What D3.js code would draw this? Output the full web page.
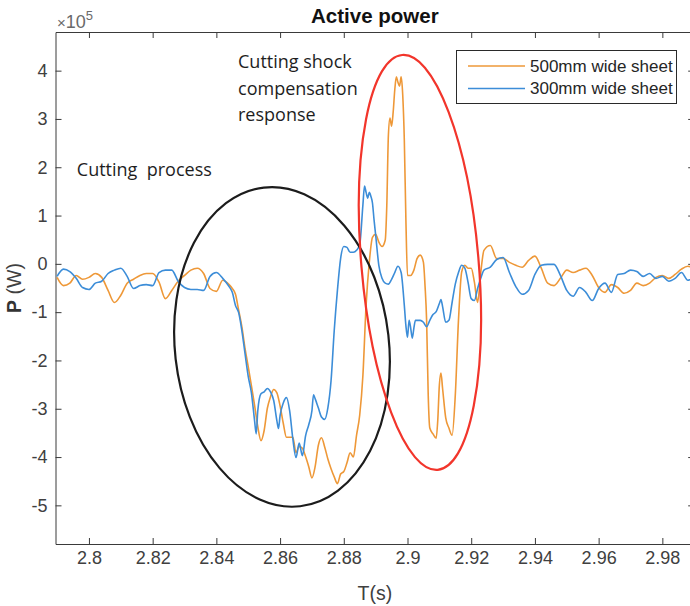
<!DOCTYPE html>
<html>
<head>
<meta charset="utf-8">
<script src="https://cdn.jsdelivr.net/npm/d3@7"></script>
<style>
  body { margin: 0; background: #fff; }
  svg { display: block; }
</style>
</head>
<body>
<svg id="chart" width="690" height="606"></svg>
<script>
// Active power during a cutting cycle, two sheet widths. Power in units of 1e5 W.
const seriesNames = ["500mm wide sheet", "300mm wide sheet"];

const t500 = [2.790,2.792,2.794,2.796,2.798,2.800,2.802,2.804,2.806,2.808,2.810,2.812,2.814,2.816,2.818,2.820,2.822,2.824,2.826,2.828,
  2.830,2.832,2.834,2.836,2.838,2.840,2.842,2.844,2.845,2.846,2.847,2.848,2.849,2.850,2.851,2.852,2.853,2.854,2.855,2.856,
  2.857,2.858,2.859,2.860,2.861,2.862,2.863,2.864,2.865,2.866,2.867,2.868,2.869,2.870,2.871,2.872,2.873,2.874,2.875,2.876,
  2.877,2.878,2.879,2.880,2.881,2.882,2.883,2.884,2.885,2.886,2.887,2.888,2.889,2.890,2.891,2.892,2.893,2.8935,2.894,2.8945,
  2.895,2.8955,2.896,2.8965,2.897,2.8975,2.898,2.8985,2.899,2.8995,2.900,2.901,2.902,2.903,2.904,2.905,2.9055,2.906,2.9065,2.907,
  2.908,2.909,2.9095,2.910,2.9105,2.911,2.912,2.913,2.914,2.915,2.916,2.917,2.918,2.919,2.920,2.921,2.922,2.923,2.924,2.926,
  2.928,2.930,2.932,2.934,2.936,2.938,2.940,2.942,2.944,2.946,2.948,2.950,2.952,2.954,2.956,2.958,2.960,2.962,2.964,2.966,
  2.968,2.970,2.972,2.974,2.976,2.978,2.980,2.982,2.984,2.986,2.988,2.990];
const p500 = [-0.28,-0.45,-0.40,-0.24,-0.32,-0.28,-0.20,-0.28,-0.55,-0.80,-0.65,-0.40,-0.32,-0.24,-0.20,-0.20,-0.38,-0.72,-0.55,-0.36,
  -0.24,-0.13,-0.09,-0.20,-0.51,-0.57,-0.34,-0.43,-0.51,-0.63,-0.96,-1.30,-1.75,-2.13,-2.52,-2.93,-3.37,-3.66,-3.45,-2.99,
  -2.75,-2.60,-2.67,-2.94,-3.30,-3.59,-3.59,-3.59,-3.91,-3.78,-3.82,-3.99,-4.20,-4.43,-4.20,-3.76,-3.60,-3.79,-4.04,-4.24,
  -4.41,-4.55,-4.35,-4.30,-4.12,-3.91,-4.00,-3.55,-3.13,-2.31,-0.86,0.03,0.55,0.61,0.45,0.36,0.49,1.21,2.66,3.02,
  2.85,3.14,3.60,3.87,3.76,3.68,3.87,3.50,2.56,0.90,-0.24,-0.24,-0.13,0.11,0.18,0.03,-0.45,-1.17,-2.71,-3.40,
  -3.52,-3.61,-3.24,-2.51,-2.26,-2.57,-3.19,-3.40,-3.55,-2.72,-1.17,-0.17,-0.03,-0.09,-0.09,-0.38,-0.80,-0.18,0.28,0.38,
  0.11,0.11,0.03,-0.03,-0.07,0.07,0.16,-0.09,-0.40,-0.45,-0.30,-0.13,-0.18,-0.13,-0.09,-0.24,-0.49,-0.59,-0.43,-0.49,
  -0.61,-0.55,-0.40,-0.45,-0.40,-0.28,-0.24,-0.30,-0.22,-0.11,-0.05,-0.09];

const t300 = [2.790,2.792,2.794,2.796,2.798,2.800,2.802,2.804,2.806,2.808,2.810,2.812,2.814,2.816,2.818,2.820,2.822,2.824,2.826,2.828,
  2.830,2.832,2.834,2.836,2.838,2.840,2.842,2.844,2.845,2.846,2.847,2.848,2.849,2.850,2.851,2.852,2.8525,2.853,2.854,2.855,
  2.856,2.857,2.858,2.859,2.8595,2.860,2.861,2.862,2.863,2.864,2.865,2.866,2.867,2.868,2.869,2.870,2.8705,2.871,2.872,2.873,
  2.874,2.875,2.876,2.877,2.878,2.879,2.880,2.881,2.882,2.883,2.884,2.885,2.886,2.8865,2.887,2.8875,2.888,2.8885,2.889,2.8895,
  2.890,2.891,2.892,2.893,2.894,2.895,2.896,2.897,2.898,2.899,2.8995,2.900,2.9005,2.901,2.9015,2.902,2.9025,2.903,2.904,2.905,
  2.906,2.907,2.908,2.909,2.910,2.9105,2.911,2.912,2.913,2.914,2.915,2.916,2.917,2.918,2.919,2.920,2.921,2.922,2.923,2.924,
  2.926,2.928,2.930,2.932,2.934,2.936,2.938,2.940,2.942,2.944,2.946,2.948,2.950,2.952,2.954,2.956,2.958,2.960,2.962,2.964,
  2.966,2.968,2.970,2.972,2.974,2.976,2.978,2.980,2.982,2.984,2.986,2.988,2.990];
const p300 = [-0.26,-0.11,-0.16,-0.30,-0.49,-0.53,-0.40,-0.36,-0.20,-0.13,-0.09,-0.26,-0.51,-0.45,-0.43,-0.45,-0.18,-0.13,-0.13,-0.36,
  -0.49,-0.53,-0.53,-0.55,-0.26,-0.18,-0.30,-0.47,-0.59,-0.86,-1.01,-1.38,-1.86,-2.33,-2.67,-3.25,-3.52,-3.04,-2.69,-2.65,
  -2.58,-2.65,-2.83,-3.25,-3.41,-3.14,-2.88,-2.77,-3.04,-3.62,-4.01,-3.71,-3.97,-3.56,-3.33,-3.04,-2.71,-2.79,-2.98,-3.17,
  -3.22,-2.98,-2.42,-1.38,-0.55,0.11,0.36,0.34,0.24,0.24,0.28,0.40,1.22,1.61,1.48,1.36,1.48,1.40,1.26,0.91,
  0.60,-0.03,-0.30,-0.40,-0.42,-0.32,-0.18,-0.05,-0.18,-0.86,-1.28,-1.52,-1.17,-1.33,-1.54,-1.33,-1.17,-1.17,-1.17,-1.21,
  -1.30,-1.17,-1.05,-0.99,-0.82,-0.74,-0.88,-1.21,-1.17,-0.80,-0.42,-0.18,-0.03,-0.09,-0.38,-0.72,-0.76,-0.51,-0.30,-0.13,
  -0.07,0.09,0.13,-0.18,-0.47,-0.63,-0.55,-0.22,-0.03,-0.01,-0.01,-0.24,-0.55,-0.67,-0.49,-0.59,-0.76,-0.51,-0.40,-0.59,
  -0.22,-0.20,-0.13,-0.16,-0.26,-0.20,-0.30,-0.26,-0.36,-0.30,-0.18,-0.34,-0.26];

const xTicks = [2.80, 2.82, 2.84, 2.86, 2.88, 2.90, 2.92, 2.94, 2.96, 2.98];
const xTickLabels = ["2.8", "2.82", "2.84", "2.86", "2.88", "2.9", "2.92", "2.94", "2.96", "2.98"];
const yTicks = [-5, -4, -3, -2, -1, 0, 1, 2, 3, 4];
const yTickLabels = ["-5", "-4", "-3", "-2", "-1", "0", "1", "2", "3", "4"];

// Annotation ellipses in data units (centre, half-widths) plus a tilt in degrees
const regions = [
  { t: 2.8606, p: -1.72, halfT: 0.0336, halfP: 3.32, tilt: -6.5, color: "#1c1c1c" },
  { t: 2.9039, p: 0.03, halfT: 0.0184, halfP: 4.31, tilt: -4.9, color: "#f2352b" }
];
const notes = [
  { t: 2.8468, p: 4.05, lines: ["Cutting shock", "compensation", "response"] },
  { t: 2.7962, p: 1.82, lines: ["Cutting  process"] }
];

const colors = ["#ee9838", "#3c8dd8"];
const axisFont = "'Liberation Sans', Arial, Helvetica, sans-serif";
const axisInk = "#404040";

const svg = d3.select("#chart");
const plotLeft = 55.5, plotRight = 694.2, plotTop = 32, plotBottom = 544;

const x = d3.scaleLinear().domain([2.7895, 2.99]).range([plotLeft, plotRight]);
const y = d3.scaleLinear().domain([-5.8, 4.8]).range([plotBottom, plotTop]);

svg.append("rect").attr("width", 690).attr("height", 606).attr("fill", "#fff");

svg.append("defs").append("clipPath").attr("id", "plot-clip")
  .append("rect").attr("x", plotLeft).attr("y", plotTop)
  .attr("width", plotRight - plotLeft).attr("height", plotBottom - plotTop);

// Axes: ticks point inward on all four sides
function styleAxis(g, withLabels) {
  g.attr("font-family", axisFont).attr("font-size", 18);
  g.select(".domain").attr("stroke", "#3a3a3a").attr("stroke-width", 1);
  g.selectAll(".tick line").attr("stroke", "#3a3a3a").attr("stroke-width", 1);
  g.selectAll(".tick text").attr("fill", axisInk);
  if (!withLabels) g.selectAll(".tick text").remove();
}

svg.append("g").attr("transform", `translate(0,${plotBottom})`)
  .call(d3.axisBottom(x).tickValues(xTicks).tickFormat((d, i) => xTickLabels[i])
    .tickSizeInner(-6).tickSizeOuter(0).tickPadding(7))
  .call(g => styleAxis(g, true));
svg.append("g").attr("transform", `translate(0,${plotTop})`)
  .call(d3.axisTop(x).tickValues(xTicks).tickSizeInner(-6).tickSizeOuter(0))
  .call(g => styleAxis(g, false));
svg.append("g").attr("transform", `translate(${plotLeft},0)`)
  .call(d3.axisLeft(y).tickValues(yTicks).tickFormat((d, i) => yTickLabels[i])
    .tickSizeInner(-6).tickSizeOuter(0).tickPadding(8))
  .call(g => styleAxis(g, true));
svg.append("g").attr("transform", `translate(${plotRight},0)`)
  .call(d3.axisRight(y).tickValues(yTicks).tickSizeInner(-6).tickSizeOuter(0))
  .call(g => styleAxis(g, false));

// Exponent marker above the y axis
const expo = svg.append("text").attr("x", 57).attr("y", 28)
  .attr("font-family", axisFont).attr("font-size", 18).attr("fill", "#6a6a6a");
expo.append("tspan").attr("font-size", 15).text("\u00d7");
expo.append("tspan").text("10");
expo.append("tspan").attr("font-size", 13).attr("dy", -8).text("5");

// Series lines
const line = d3.line().x(d => x(d[0])).y(d => y(d[1])).curve(d3.curveMonotoneX);
const plot = svg.append("g").attr("clip-path", "url(#plot-clip)");
[[t500, p500], [t300, p300]].forEach(([ts, ps], i) => {
  plot.append("path")
    .datum(d3.zip(ts, ps))
    .attr("fill", "none")
    .attr("stroke", colors[i])
    .attr("stroke-width", 1.6)
    .attr("stroke-linejoin", "round")
    .attr("d", line);
});

// Highlight ellipses
const pxPerT = (x.range()[1] - x.range()[0]) / (x.domain()[1] - x.domain()[0]);
const pxPerP = (y.range()[0] - y.range()[1]) / (y.domain()[1] - y.domain()[0]);
regions.forEach(r => {
  const cx = x(r.t), cy = y(r.p);
  svg.append("ellipse")
    .attr("cx", cx).attr("cy", cy)
    .attr("rx", r.halfT * pxPerT).attr("ry", r.halfP * pxPerP)
    .attr("transform", `rotate(${r.tilt},${cx},${cy})`)
    .attr("fill", "none").attr("stroke", r.color).attr("stroke-width", 2.2);
});

// Callout text
notes.forEach(n => {
  const txt = svg.append("text")
    .attr("x", x(n.t)).attr("y", y(n.p))
    .attr("font-family", "'Open Sans', 'Noto Sans', sans-serif")
    .attr("font-size", 18).attr("fill", "#1e1e1e")
    .style("white-space", "pre");
  n.lines.forEach((l, i) => {
    txt.append("tspan").attr("x", x(n.t)).attr("dy", i === 0 ? 0 : 26.5).text(l);
  });
});

// Title and axis titles
svg.append("text").attr("x", (plotLeft + plotRight) / 2).attr("y", 23)
  .attr("text-anchor", "middle").attr("font-family", axisFont)
  .attr("font-size", 20.5).attr("font-weight", "bold").attr("fill", "#111")
  .text("Active power");

svg.append("text").attr("x", (plotLeft + plotRight) / 2).attr("y", 600)
  .attr("text-anchor", "middle").attr("font-family", axisFont)
  .attr("font-size", 19.5).attr("fill", axisInk)
  .text("T(s)");

const yl = svg.append("text")
  .attr("transform", `translate(21,${(plotTop + plotBottom) / 2}) rotate(-90)`)
  .attr("text-anchor", "middle").attr("font-family", axisFont)
  .attr("font-size", 19.5).attr("fill", axisInk);
yl.append("tspan").attr("font-weight", "bold").attr("fill", "#333").text("P");
yl.append("tspan").text(" (W)");

// Legend
const legend = svg.append("g");
legend.append("rect").attr("x", 456.5).attr("y", 50.5).attr("width", 220).attr("height", 53)
  .attr("fill", "#fff").attr("stroke", "#2a2a2a").attr("stroke-width", 1);
seriesNames.forEach((name, i) => {
  const ly = 66 + i * 22.5;
  legend.append("line").attr("x1", 468).attr("x2", 525).attr("y1", ly).attr("y2", ly)
    .attr("stroke", colors[i]).attr("stroke-width", 1.6);
  legend.append("text").attr("x", 530).attr("y", ly).attr("dy", "0.35em")
    .attr("font-family", axisFont).attr("font-size", 17).attr("fill", "#262626")
    .text(name);
});
</script>
</body>
</html>
